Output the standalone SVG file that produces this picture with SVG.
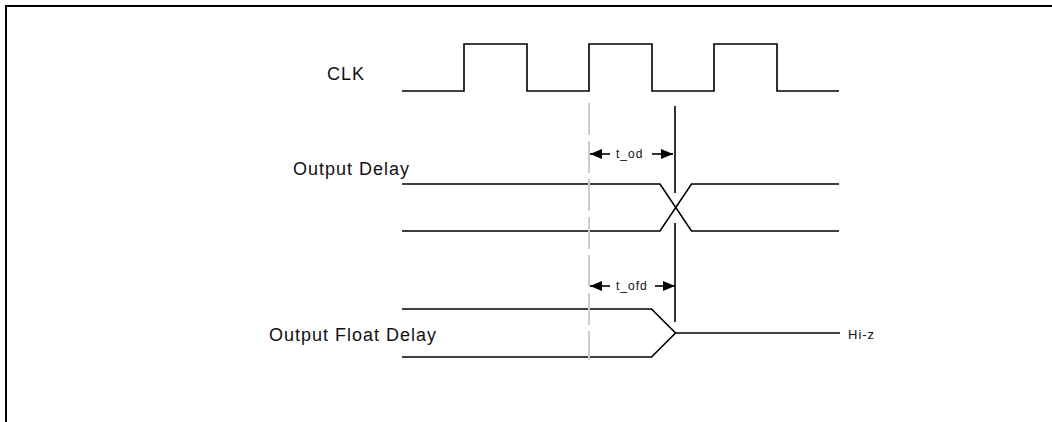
<svg xmlns="http://www.w3.org/2000/svg" width="1052" height="422" viewBox="0 0 1052 422">
<style>
.sig{fill:none;stroke:#000;stroke-width:1.6}
.lbl{font-family:"Liberation Sans",Arial,sans-serif;font-size:18px;letter-spacing:1px;fill:#111}
.small{font-family:"Liberation Sans",Arial,sans-serif;font-size:12px;letter-spacing:1px;fill:#111}
.dim{fill:none;stroke:#000;stroke-width:1.6}
</style>
<defs>
<marker id="ah" viewBox="0 0 12 10" refX="12" refY="5" markerWidth="12" markerHeight="10" markerUnits="userSpaceOnUse" orient="auto">
<path d="M0,0 L12,5 L0,10 Z" fill="#000"/>
</marker>
</defs>
<rect x="6" y="6" width="1200" height="600" fill="#fff" stroke="#000" stroke-width="2"/>
<g id="clk">
<text class="lbl" x="327" y="80">CLK</text>
<path class="sig" d="M402,91 H464 V44 H527 V91 H589 V44 H652 V91 H714 V44 H777 V91 H839"/>
</g>
<g id="output-delay">
<text class="lbl" x="293" y="175">Output Delay</text>
<path class="sig" d="M402,184 H660 L691.5,231 H839"/>
<path class="sig" d="M402,231 H660 L691.5,184 H839"/>
</g>
<g id="output-float-delay">
<text class="lbl" x="269" y="341">Output Float Delay</text>
<path class="sig" d="M402,309 H651.5 L675.5,333 L651.5,357 H402"/>
<path class="sig" d="M675.5,333 H840"/>
<text class="small" x="848" y="339" style="font-size:13px">Hi-z</text>
</g>
<g id="connectors">
<line x1="589" y1="103" x2="589" y2="360" stroke="#ccc" stroke-width="2" stroke-dasharray="32 6"/>
<line x1="675" y1="106" x2="675" y2="193" stroke="#000" stroke-width="1.6"/>
<line x1="675" y1="223" x2="675" y2="322" stroke="#000" stroke-width="1.6"/>
<line class="dim" x1="610" y1="154" x2="590" y2="154" marker-end="url(#ah)"/>
<line class="dim" x1="652" y1="154" x2="673" y2="154" marker-end="url(#ah)"/>
<text class="small" x="616" y="158">t_od</text>
<line class="dim" x1="610" y1="286" x2="590" y2="286" marker-end="url(#ah)"/>
<line class="dim" x1="655" y1="286" x2="675" y2="286" marker-end="url(#ah)"/>
<text class="small" x="616" y="290">t_ofd</text>
</g>
</svg>
